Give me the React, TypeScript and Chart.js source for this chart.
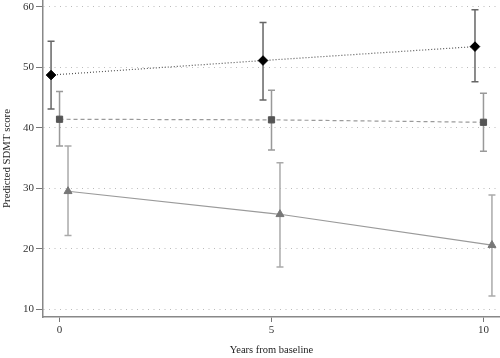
import React, { useEffect, useRef } from "react";
import { Chart, registerables } from "chart.js";

Chart.register(...registerables);

const years = [0, 5, 10];
const yTickValues = [10, 20, 30, 40, 50, 60];

const diamondMean = [48.7, 51.1, 53.4];
const diamondLow = [43.1, 44.6, 47.6];
const diamondHigh = [54.3, 57.4, 59.5];

const squareMean = [41.4, 41.3, 40.9];
const squareLow = [37.0, 36.3, 36.1];
const squareHigh = [46.0, 46.2, 45.7];

const triangleMean = [29.5, 25.7, 20.6];
const triangleLow = [22.2, 17.0, 12.2];
const triangleHigh = [37.0, 34.2, 28.9];

const FONT = "'Liberation Serif', 'Times New Roman', serif";

type Series = {
  mean: number[];
  low: number[];
  high: number[];
  dodge: number;
  style: string;
  radius: number;
  pointColor: string;
  lineColor: string;
  dash: number[];
  barColor: string;
};

const series: Series[] = [
  { mean: triangleMean, low: triangleLow, high: triangleHigh, dodge: 0.2, style: "triangle", radius: 4.6, pointColor: "#777777", lineColor: "#9a9a9a", dash: [], barColor: "#aaaaaa" },
  { mean: squareMean, low: squareLow, high: squareHigh, dodge: 0, style: "rect", radius: 4.4, pointColor: "#555555", lineColor: "#9a9a9a", dash: [4, 3], barColor: "#999999" },
  { mean: diamondMean, low: diamondLow, high: diamondHigh, dodge: -0.2, style: "rectRot", radius: 4.8, pointColor: "#000000", lineColor: "#555555", dash: [1, 2], barColor: "#666666" },
];

const errorBarPlugin = {
  id: "errorBars",
  beforeDatasetsDraw(chart: any) {
    const ctx = chart.ctx;
    const xs = chart.scales.x;
    const ys = chart.scales.y;
    ctx.save();
    series.forEach((s) => {
      ctx.strokeStyle = s.barColor;
      ctx.lineWidth = 1.5;
      ctx.setLineDash([]);
      years.forEach((yr, i) => {
        const px = xs.getPixelForValue(yr + s.dodge);
        const pLo = ys.getPixelForValue(s.low[i]);
        const pHi = ys.getPixelForValue(s.high[i]);
        ctx.beginPath();
        ctx.moveTo(px, pLo);
        ctx.lineTo(px, pHi);
        ctx.moveTo(px - 3.5, pLo);
        ctx.lineTo(px + 3.5, pLo);
        ctx.moveTo(px - 3.5, pHi);
        ctx.lineTo(px + 3.5, pHi);
        ctx.stroke();
      });
    });
    ctx.restore();
  },
};

export default function App() {
  const ref = useRef<HTMLCanvasElement | null>(null);

  useEffect(() => {
    document.body.style.margin = "0";
    if (!ref.current) return;
    const chart = new Chart(ref.current, {
      type: "line",
      data: {
        datasets: series.map((s) => ({
          data: years.map((yr, i) => ({ x: yr + s.dodge, y: s.mean[i] })),
          borderColor: s.lineColor,
          borderWidth: 1.2,
          borderDash: s.dash,
          tension: 0,
          fill: false,
          clip: false,
          pointStyle: s.style as any,
          pointRadius: s.radius,
          pointBackgroundColor: s.pointColor,
          pointBorderColor: s.pointColor,
          pointBorderWidth: 1,
        })),
      },
      options: {
        responsive: false,
        animation: false,
        devicePixelRatio: 1,
        layout: { padding: 0, autoPadding: false },
        plugins: { legend: { display: false }, tooltip: { enabled: false } },
        scales: {
          x: {
            type: "linear",
            min: -0.39,
            max: 10.39,
            afterBuildTicks: (scale: any) => {
              scale.ticks = years.map((v) => ({ value: v }));
            },
            afterFit: (scale: any) => {
              scale.height = 41;
              scale.paddingLeft = 0;
              scale.paddingRight = 0;
            },
            grid: {
              display: true,
              drawOnChartArea: false,
              drawTicks: true,
              tickLength: 5,
              tickColor: "#777777",
              tickWidth: 1,
            },
            border: { display: true, color: "#888888", width: 1.5 },
            ticks: {
              color: "#333333",
              font: { family: FONT, size: 11 },
              padding: 2,
              maxRotation: 0,
              callback: (v: any) => String(v),
            },
            title: {
              display: true,
              text: "Years from baseline",
              color: "#222222",
              font: { family: FONT, size: 10.5 },
              padding: { top: 0, bottom: 1 },
            },
          },
          y: {
            type: "linear",
            min: 8.73,
            max: 61.1,
            afterBuildTicks: (scale: any) => {
              scale.ticks = yTickValues.map((v) => ({ value: v }));
            },
            afterFit: (scale: any) => {
              scale.width = 43;
              scale.paddingTop = 0;
              scale.paddingBottom = 0;
            },
            grid: {
              display: true,
              drawOnChartArea: true,
              drawTicks: true,
              tickLength: 7,
              color: "#bbbbbb",
              lineWidth: 1,
              tickColor: "#777777",
              tickWidth: 1,
            },
            border: { display: true, color: "#888888", width: 1.5, dash: [1, 4.5] },
            ticks: {
              color: "#333333",
              font: { family: FONT, size: 11 },
              padding: 2,
              callback: (v: any) => String(v),
            },
            title: {
              display: true,
              text: "Predicted SDMT score",
              color: "#222222",
              font: { family: FONT, size: 10.8 },
              padding: { top: 1, bottom: 0 },
            },
          },
        },
      },
      plugins: [errorBarPlugin],
    });
    return () => chart.destroy();
  }, []);

  return (
    <div style={{ width: 500, height: 358 }}>
      <canvas ref={ref} width={500} height={358} style={{ display: "block" }} />
    </div>
  );
}
